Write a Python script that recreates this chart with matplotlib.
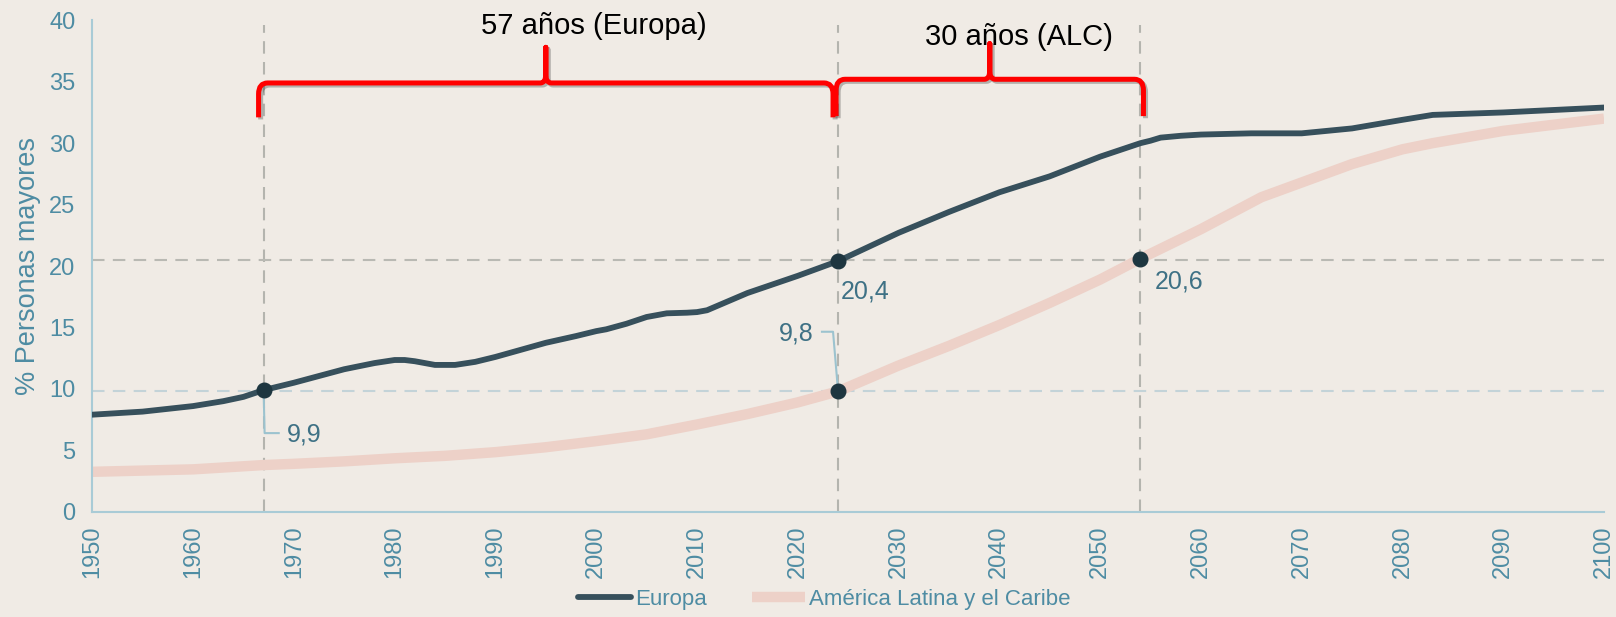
import matplotlib.pyplot as plt
from matplotlib.path import Path
from matplotlib.patches import PathPatch
import matplotlib.patheffects as pe

plt.rcParams['font.family'] = ['Liberation Sans', 'DejaVu Sans']

# ====================== datos ======================
anios_eu = [1950, 1955, 1960, 1963, 1965, 1967, 1970, 1975, 1978, 1980, 1981, 1982, 1983,
            1984, 1986, 1988, 1990, 1995, 1998, 2000, 2001, 2003, 2005, 2007, 2009,
            2010, 2011, 2013, 2015, 2020, 2024, 2030, 2035, 2040, 2045, 2050, 2054,
            2055, 2056, 2058, 2060, 2065, 2070, 2075, 2080, 2083, 2090, 2100]
europa = [7.9, 8.15, 8.6, 9.0, 9.35, 9.9, 10.5, 11.6, 12.1, 12.35, 12.35, 12.25, 12.1,
          11.95, 11.95, 12.2, 12.6, 13.75, 14.3, 14.7, 14.85, 15.3, 15.85, 16.15, 16.2,
          16.25, 16.4, 17.1, 17.8, 19.2, 20.4, 22.7, 24.4, 26.0, 27.3, 28.9, 30.0,
          30.2, 30.45, 30.6, 30.7, 30.8, 30.8, 31.2, 31.9, 32.3, 32.5, 32.9]

anios_alc = [1950, 1960, 1967, 1970, 1975, 1980, 1985, 1990, 1995, 2000, 2005, 2010,
             2015, 2020, 2024, 2030, 2035, 2040, 2045, 2050, 2054, 2060, 2066, 2070,
             2075, 2080, 2083, 2090, 2100]
alc = [3.25, 3.45, 3.8, 3.9, 4.1, 4.35, 4.55, 4.85, 5.25, 5.75, 6.3, 7.1,
       7.95, 8.9, 9.8, 11.9, 13.5, 15.2, 17.0, 18.9, 20.6, 23.0, 25.6, 26.8,
       28.3, 29.5, 30.0, 31.0, 32.0]

# puntos destacados
puntos_x = [1967, 2024, 2024, 2054]
puntos_y = [9.9, 20.4, 9.8, 20.6]
etiquetas = ['9,9', '20,4', '9,8', '20,6']

lineas_v = [1967, 2024, 2054]
lineas_h = [9.85, 20.5]

tramos = [(1967, 2024, '57 años (Europa)'), (2024, 2054, '30 años (ALC)')]

# ====================== colores ======================
fondo = '#f0ebe5'
c_eu = '#37505c'
c_alc = '#edd1c8'
c_txt = '#4e8ca3'
c_lbl = '#3e7185'
c_eje = '#a9cbd6'

fig = plt.figure(figsize=(16.16, 6.17), dpi=100, facecolor=fondo)
ax = fig.add_axes([0.0571, 0.1706, 0.9355, 0.7965])
ax.set_facecolor(fondo)

# líneas de referencia
for x in lineas_v:
    ax.plot([x, x], [0, 39.6], color='#b4b4ae', lw=1.5, dashes=(6, 4), zorder=1)
ax.axhline(lineas_h[0], color='#c3d3d8', lw=1.5, dashes=(6, 4), zorder=1)
ax.axhline(lineas_h[1], color='#b9b9b3', lw=1.5, dashes=(6, 4), zorder=1)

ax.plot(anios_alc, alc, color=c_alc, lw=7.5, solid_capstyle='butt',
        solid_joinstyle='round', label='América Latina y el Caribe', zorder=2)
ax.plot(anios_eu, europa, color=c_eu, lw=4.2, solid_capstyle='round',
        solid_joinstyle='round', label='Europa', zorder=3)
ax.plot(puntos_x, puntos_y, 'o', color='#1e3640', ms=10.5, zorder=4)

# etiquetas de los puntos
ax.plot([1967, 1967.1, 1968.5], [9.9, 6.4, 6.4], color='#9cc3cf', lw=1.5, zorder=3)
ax.text(1969.3, 6.3, etiquetas[0], color=c_lbl, fontsize=18, va='center', ha='left')
ax.text(2024.3, 17.9, etiquetas[1], color=c_lbl, fontsize=18, va='center', ha='left')
ax.plot([2024, 2023.5, 2022.4], [9.8, 14.65, 14.65], color='#9cc3cf', lw=1.5, zorder=3)
ax.text(2021.6, 14.5, etiquetas[2], color=c_lbl, fontsize=18, va='center', ha='right')
ax.text(2055.4, 18.7, etiquetas[3], color=c_lbl, fontsize=18, va='center', ha='left')


# llaves rojas
def llave(x0, x1, yh, yb, yt, rx=0.9, ry=0.9):
    xm = (x0 + x1) / 2
    verts = [(x0, yb), (x0, yh - ry), (x0, yh), (x0 + rx, yh),
             (xm - rx * 0.6, yh), (xm, yh), (xm, yh + ry * 0.8), (xm, yt),
             (xm, yh + ry * 0.8), (xm, yh), (xm + rx * 0.6, yh),
             (x1 - rx, yh), (x1, yh), (x1, yh - ry), (x1, yb)]
    codes = [Path.MOVETO, Path.LINETO, Path.CURVE3, Path.CURVE3,
             Path.LINETO, Path.CURVE3, Path.CURVE3, Path.LINETO,
             Path.LINETO, Path.CURVE3, Path.CURVE3,
             Path.LINETO, Path.CURVE3, Path.CURVE3, Path.LINETO]
    p = PathPatch(Path(verts, codes), fill=False, edgecolor='#ff0000', lw=3.6,
                  capstyle='butt', joinstyle='round', clip_on=False, zorder=5,
                  path_effects=[pe.SimpleLineShadow(offset=(1.5, -1.5), alpha=0.25),
                                pe.Normal()])
    ax.add_patch(p)


llave(tramos[0][0] - 0.5, tramos[0][1] - 0.5, 34.9, 32.1, 37.8)
llave(tramos[1][0] - 0.2, tramos[1][1] + 0.3, 35.2, 32.2, 38.1)
ax.text(1999.8, 39.5, tramos[0][2], fontsize=21, color='black', ha='center', va='center')
ax.text(2041.9, 38.6, tramos[1][2], fontsize=21, color='black', ha='center', va='center')

# ejes
ax.set_xlim(1950, 2100)
ax.set_ylim(0, 40)
ax.set_xticks(range(1950, 2101, 10))
ax.set_yticks(range(0, 41, 5))
ax.tick_params(axis='x', length=0, pad=10, labelsize=17, labelcolor=c_txt, rotation=90)
ax.tick_params(axis='y', length=0, pad=12, labelsize=17, labelcolor=c_txt)
for s in ['top', 'right']:
    ax.spines[s].set_visible(False)
for s in ['left', 'bottom']:
    ax.spines[s].set_color(c_eje)
    ax.spines[s].set_linewidth(1.5)
ax.set_ylabel('% Personas mayores', fontsize=19.5, color=c_txt, labelpad=6)

h, l = ax.get_legend_handles_labels()
leg = fig.legend(h[::-1], l[::-1], loc='center', bbox_to_anchor=(0.51, 0.028), ncol=2,
                 frameon=False, fontsize=16, handlelength=2.4, handletextpad=0.2,
                 columnspacing=2.0)
for t in leg.get_texts():
    t.set_color(c_txt)

fig.savefig('out.png', dpi=100, facecolor=fondo)
